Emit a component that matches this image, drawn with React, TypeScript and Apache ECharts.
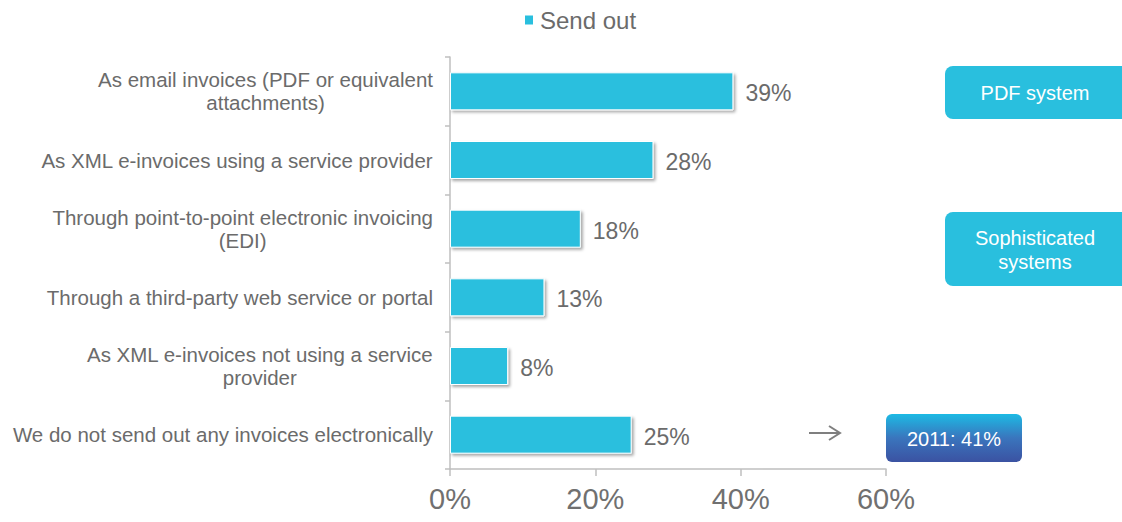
import React, { useEffect, useRef } from "react";
import * as echarts from "echarts";

const categories: string[] = [
  "As email invoices (PDF or equivalent\nattachments)",
  "As XML e-invoices using a service provider",
  "Through point-to-point electronic invoicing\n(EDI)",
  "Through a third-party web service or portal",
  "As XML e-invoices not using a service\nprovider",
  "We do not send out any invoices electronically",
];
const sendOut: number[] = [39, 28, 18, 13, 8, 25];
const seriesName = "Send out";
const xTicks = { min: 0, max: 60, interval: 20 };
const annotations = {
  pdf: "PDF system",
  sophisticated: "Sophisticated\nsystems",
  prior: "2011: 41%",
};

const FONT = "'Liberation Sans', Arial, sans-serif";

export default function App() {
  const ref = useRef<HTMLDivElement>(null);
  useEffect(() => {
    if (!ref.current) return;
    const chart = echarts.init(ref.current, undefined, { renderer: "svg" });
    chart.setOption({
      animation: false,
      backgroundColor: "#ffffff",
      textStyle: { fontFamily: FONT },
      legend: {
        show: true,
        left: 518,
        top: 3,
        itemWidth: 10,
        itemHeight: 11,
        itemGap: 10,
        icon: "rect",
        data: [seriesName],
        textStyle: { fontSize: 24, color: "#6b6b6b", fontFamily: FONT, padding: [0, 0, 0, 1] },
      },
      grid: { left: 450, right: 236, top: 57, bottom: 53, containLabel: false },
      xAxis: {
        type: "value",
        min: xTicks.min,
        max: xTicks.max,
        interval: xTicks.interval,
        axisLine: { show: true, lineStyle: { color: "#bfbfbf", width: 1.5 } },
        axisTick: { show: true, length: 7, lineStyle: { color: "#bfbfbf", width: 1.5 } },
        splitLine: { show: false },
        axisLabel: {
          formatter: "{value}%",
          fontSize: 29,
          color: "#707070",
          margin: 15,
          fontFamily: FONT,
        },
      },
      yAxis: {
        type: "category",
        inverse: true,
        data: categories,
        axisLine: { show: true, lineStyle: { color: "#bfbfbf", width: 1.5 } },
        axisTick: { show: true, length: 5, lineStyle: { color: "#bfbfbf", width: 1.5 } },
        axisLabel: {
          margin: 17,
          align: "right",
          formatter: (v: string) =>
            v
              .split("\n")
              .map((l) => "{c|" + l + "}")
              .join("\n"),
          rich: {
            c: {
              align: "center",
              fontSize: 20.5,
              lineHeight: 23,
              color: "#6b6b6b",
              fontFamily: FONT,
            },
          },
        },
      },
      series: [
        {
          name: seriesName,
          type: "bar",
          data: sendOut,
          barWidth: 38,
          itemStyle: {
            color: "#29bfde",
            borderColor: "#ffffff",
            borderWidth: 1,
            shadowColor: "rgba(0,0,0,0.35)",
            shadowBlur: 3,
            shadowOffsetX: 2,
            shadowOffsetY: 2,
          },
          label: {
            show: true,
            position: "right",
            distance: 12,
            offset: [0, 2],
            formatter: "{c}%",
            fontSize: 23,
            color: "#6b6b6b",
            fontFamily: FONT,
          },
        },
      ],
      graphic: [
        {
          type: "rect",
          shape: { x: 945, y: 66, width: 185, height: 53, r: 8 },
          style: { fill: "#29bfde" },
        },
        {
          type: "text",
          x: 1035,
          y: 93,
          style: {
            text: annotations.pdf,
            fill: "#ffffff",
            fontSize: 20,
            fontFamily: FONT,
            align: "center",
            verticalAlign: "middle",
          },
        },
        {
          type: "rect",
          shape: { x: 945, y: 212, width: 185, height: 74, r: 8 },
          style: { fill: "#29bfde" },
        },
        {
          type: "text",
          x: 1035,
          y: 250,
          style: {
            text: annotations.sophisticated,
            fill: "#ffffff",
            fontSize: 20,
            lineHeight: 24,
            fontFamily: FONT,
            align: "center",
            verticalAlign: "middle",
          },
        },
        {
          type: "line",
          shape: { x1: 809, y1: 433, x2: 839, y2: 433 },
          style: { stroke: "#7f7f7f", lineWidth: 2 },
        },
        {
          type: "polyline",
          shape: { points: [[829, 426], [840, 433], [829, 440]] },
          style: { stroke: "#7f7f7f", lineWidth: 2, fill: "none" },
        },
        {
          type: "rect",
          shape: { x: 886, y: 414, width: 136, height: 48, r: 6 },
          style: {
            fill: new echarts.graphic.LinearGradient(0, 0, 0, 1, [
              { offset: 0, color: "#1dbae4" },
              { offset: 0.5, color: "#3a75bd" },
              { offset: 1, color: "#3b52a2" },
            ]),
          },
        },
        {
          type: "text",
          x: 954,
          y: 439,
          style: {
            text: annotations.prior,
            fill: "#ffffff",
            fontSize: 20,
            fontFamily: FONT,
            align: "center",
            verticalAlign: "middle",
          },
        },
      ],
    });
    return () => chart.dispose();
  }, []);
  return (
    <div
      ref={ref}
      style={{ position: "fixed", left: 0, top: 0, width: 1122, height: 522 }}
    />
  );
}
